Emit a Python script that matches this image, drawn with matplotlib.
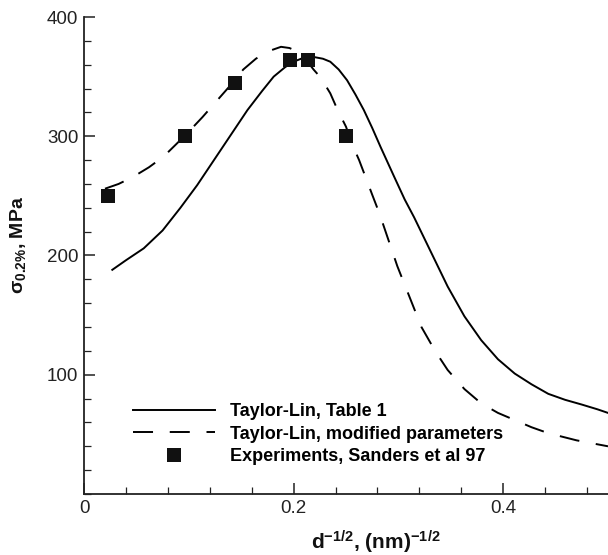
import matplotlib
matplotlib.use("Agg")
from matplotlib import pyplot as plt
from matplotlib.ticker import MultipleLocator

# Taylor-Lin model, Table 1 parameters (solid line)
table1_x = [0.027, 0.040, 0.057, 0.075, 0.092, 0.108, 0.124, 0.140, 0.156,
            0.170, 0.181, 0.192, 0.200, 0.210, 0.219, 0.228, 0.235, 0.243,
            0.251, 0.259, 0.267, 0.275, 0.283, 0.296, 0.306, 0.315, 0.331,
            0.347, 0.363, 0.379, 0.395, 0.411, 0.427, 0.443, 0.459, 0.475,
            0.490, 0.500]
table1_y = [188, 196, 206, 221, 240, 259, 280, 301, 322,
            338, 350, 358, 362.5, 366, 366.5, 365, 362.5, 356,
            347, 335, 322, 307, 291, 266, 247, 232, 203,
            174, 149, 129, 113, 101, 92, 84, 79, 75,
            71, 68]

# Taylor-Lin model, modified parameters (dashed line)
modified_x = [0.020, 0.033, 0.047, 0.062, 0.076, 0.098, 0.113, 0.127, 0.140,
              0.152, 0.164, 0.175, 0.188, 0.196, 0.204, 0.212, 0.219, 0.226,
              0.235, 0.242, 0.250, 0.256, 0.2625, 0.269, 0.275, 0.282, 0.299,
              0.322, 0.335, 0.347, 0.363, 0.379, 0.395, 0.411, 0.427, 0.443,
              0.470, 0.500]
modified_y = [256, 260, 266, 274, 283, 302, 316, 330, 343,
              356, 365, 371, 375, 374, 371, 364, 356, 349,
              336, 322, 308, 293, 280, 265, 251, 235, 191,
              140, 120, 104, 88, 76, 68, 62, 56, 51,
              45, 40]

# Experiments, Sanders et al 97
exp_x = [0.023, 0.096, 0.144, 0.197, 0.214, 0.250]
exp_y = [250, 300, 345, 364, 364, 300]

plt.rcParams['font.family'] = ['Liberation Sans', 'DejaVu Sans']
plt.rcParams['mathtext.fontset'] = 'custom'
plt.rcParams['mathtext.rm'] = 'Liberation Sans'
plt.rcParams['mathtext.bf'] = 'Liberation Sans:bold'
plt.rcParams['mathtext.it'] = 'Liberation Sans:italic'

W, H = 608, 555
fig = plt.figure(figsize=(W / 100, H / 100), dpi=100)
ax = fig.add_axes([84 / W, 61 / H, 524 / W, 477 / H])

ax.plot(table1_x, table1_y, color='black', lw=1.4,
        label='Taylor-Lin, Table 1', clip_on=False)
ax.plot(modified_x, modified_y, color='black', lw=1.4,
        linestyle=(0, (10.3, 8.6)),
        label='Taylor-Lin, modified parameters', clip_on=False)
ax.plot(exp_x, exp_y, linestyle='none', marker='s', markersize=9.6,
        color='#111111', markeredgewidth=0,
        label='Experiments, Sanders et al 97', clip_on=False)

ax.set_xlim(0, 0.5)
ax.set_ylim(0, 400)
ax.set_xticks([0, 0.2, 0.4])
ax.set_xticklabels(['0', '0.2', '0.4'])
ax.set_yticks([100, 200, 300, 400])
ax.xaxis.set_minor_locator(MultipleLocator(0.04))
ax.yaxis.set_minor_locator(MultipleLocator(20))

for side in ['top', 'right']:
    ax.spines[side].set_visible(False)
for side in ['left', 'bottom']:
    ax.spines[side].set_linewidth(1.3)
    ax.spines[side].set_color('#222222')

ax.tick_params(which='major', direction='in', length=7.7, width=1.1,
               labelsize=13.5, pad=4, colors='#222222')
ax.tick_params(which='minor', direction='in', length=4.8, width=0.9,
               colors='#222222')

# x label sits a little right of centre, close to the bottom edge
fig.text(376 / W, 5 / H, r'd$^{\mathbf{-1/2}}$, (nm)$^{\mathbf{-1/2}}$',
         ha='center', va='baseline', fontsize=15, fontweight='bold',
         color='#111111')

ax.set_ylabel(r'σ$_{\mathbf{0.2\%}}$, MPa', fontsize=14,
              fontweight='bold', color='#111111')
ax.yaxis.set_label_coords(-0.107, 0.522)

leg = ax.legend(loc='upper left', bbox_to_anchor=(0.0935, 0.19),
                frameon=False, borderpad=0, borderaxespad=0,
                handlelength=4.55, handletextpad=0.83, labelspacing=0.3,
                prop={'weight': 'bold', 'size': 13})

fig.savefig('out.png', dpi=100)
